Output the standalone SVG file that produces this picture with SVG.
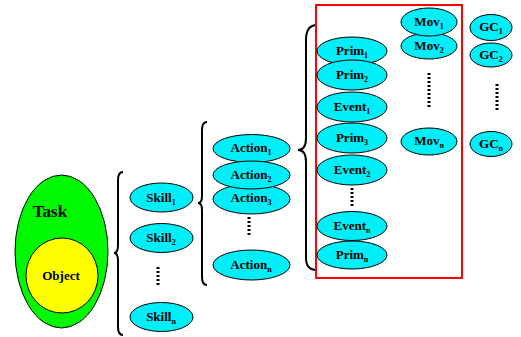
<svg xmlns="http://www.w3.org/2000/svg" width="521" height="337" viewBox="0 0 521 337">
<style>
.n{fill:#00EEF8;stroke:#000;stroke-width:1}
.t{font-family:"Liberation Serif","Times New Roman",serif;font-weight:bold;font-size:13px;fill:#000;text-anchor:middle}
.s{font-size:8px}
.br{fill:none;stroke:#000;stroke-width:2}
.dot{stroke:#000;stroke-width:3;stroke-dasharray:2 2}
</style>
<rect width="521" height="337" fill="#fff"/>
<g id="task">
<ellipse cx="61.5" cy="251.5" rx="46.5" ry="76.5" fill="#00F800" stroke="#000"/>
<text x="50" y="217" class="t" style="font-size:17px">Task</text>
</g>
<g id="object">
<ellipse cx="62" cy="275.5" rx="36" ry="37.5" fill="#FFFF00" stroke="#000"/>
<text x="61" y="280" class="t" style="font-size:13px">Object</text>
</g>
<g id="connectors">
<path class="br" d="M123,172 Q118,172 118,180 L118,245 Q118,253 114,253 Q118,253 118,261 L118,327 Q118,335 123,335"/>
<path class="br" d="M207,122 Q202,122 202,130 L202,196 Q202,203 198,203 Q202,203 202,210 L202,277 Q202,285 207,285"/>
<path class="br" d="M317,25 Q306,25 306,40 L306,138 Q306,150 298,150 Q306,150 306,162 L306,258 Q306,270 317,270"/>
<rect x="316" y="5" width="146" height="273" fill="none" stroke="#F00" stroke-width="2"/>
<line class="dot" x1="158" y1="267" x2="158" y2="287"/>
<line class="dot" x1="249" y1="217" x2="249" y2="235"/>
<line class="dot" x1="352" y1="188" x2="352" y2="206"/>
<line class="dot" x1="429" y1="73" x2="429" y2="108"/>
<line class="dot" x1="497" y1="84" x2="497" y2="112"/>
</g>
<g id="skill1"><ellipse class="n" cx="161.5" cy="197.5" rx="31.5" ry="14.5"/><text class="t" x="161" y="202">Skill<tspan class="s" dy="3">1</tspan></text></g>
<g id="skill2"><ellipse class="n" cx="161.5" cy="238" rx="31.5" ry="14.5"/><text class="t" x="161" y="242">Skill<tspan class="s" dy="3">2</tspan></text></g>
<g id="skilln"><ellipse class="n" cx="161.5" cy="317" rx="31.5" ry="14.5"/><text class="t" x="161" y="321">Skill<tspan class="s" dy="3">n</tspan></text></g>
<g id="action1"><ellipse class="n" cx="251.5" cy="148.5" rx="38.5" ry="14"/><text class="t" x="251" y="152">Action<tspan class="s" dy="3">1</tspan></text></g>
<g id="action3"><ellipse class="n" cx="251.5" cy="199" rx="38.5" ry="15"/><text class="t" x="251" y="202">Action<tspan class="s" dy="3">3</tspan></text></g>
<g id="action2"><ellipse class="n" cx="251.5" cy="175" rx="38.5" ry="14"/><text class="t" x="251" y="179">Action<tspan class="s" dy="3">2</tspan></text></g>
<g id="actionn"><ellipse class="n" cx="251.5" cy="265" rx="38.5" ry="15"/><text class="t" x="251" y="269">Action<tspan class="s" dy="3">n</tspan></text></g>
<g id="prim1"><ellipse class="n" cx="352" cy="51" rx="35" ry="14"/><text class="t" x="352" y="55">Prim<tspan class="s" dy="3">1</tspan></text></g>
<g id="prim2"><ellipse class="n" cx="352" cy="75" rx="35" ry="15"/><text class="t" x="352" y="79">Prim<tspan class="s" dy="3">2</tspan></text></g>
<g id="event1"><ellipse class="n" cx="352" cy="107" rx="35" ry="15"/><text class="t" x="352" y="111">Event<tspan class="s" dy="3">1</tspan></text></g>
<g id="prim3"><ellipse class="n" cx="352" cy="138" rx="35" ry="15"/><text class="t" x="352" y="142">Prim<tspan class="s" dy="3">3</tspan></text></g>
<g id="event2"><ellipse class="n" cx="352" cy="170" rx="35" ry="15"/><text class="t" x="352" y="174">Event<tspan class="s" dy="3">2</tspan></text></g>
<g id="eventn"><ellipse class="n" cx="352" cy="226" rx="35" ry="14.5"/><text class="t" x="352" y="230">Event<tspan class="s" dy="3">n</tspan></text></g>
<g id="primn"><ellipse class="n" cx="352" cy="255" rx="35" ry="14"/><text class="t" x="352" y="259">Prim<tspan class="s" dy="3">n</tspan></text></g>
<g id="mov2"><ellipse class="n" cx="429" cy="46" rx="28" ry="13"/><text class="t" x="429" y="50">Mov<tspan class="s" dy="3">2</tspan></text></g>
<g id="mov1"><ellipse class="n" cx="429" cy="22" rx="28" ry="14"/><text class="t" x="429" y="26">Mov<tspan class="s" dy="3">1</tspan></text></g>
<g id="movn"><ellipse class="n" cx="429" cy="141.5" rx="28" ry="13.5"/><text class="t" x="429" y="145">Mov<tspan class="s" dy="3">n</tspan></text></g>
<g id="gc1"><ellipse class="n" cx="491" cy="27.5" rx="21" ry="13"/><text class="t" x="491" y="31">GC<tspan class="s" dy="3">1</tspan></text></g>
<g id="gc2"><ellipse class="n" cx="491" cy="55" rx="21" ry="12"/><text class="t" x="491" y="59">GC<tspan class="s" dy="3">2</tspan></text></g>
<g id="gcn"><ellipse class="n" cx="491" cy="144" rx="21" ry="12.5"/><text class="t" x="491" y="148">GC<tspan class="s" dy="3">n</tspan></text></g>
</svg>
